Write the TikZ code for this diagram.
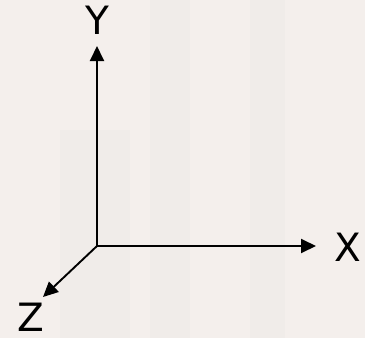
\documentclass[tikz,border=0pt]{standalone}
\usepackage{fontspec}
\setmainfont{DejaVu Sans}
\usetikzlibrary{arrows.meta}
\definecolor{bgcol}{RGB}{244,239,236}
\definecolor{bandcol}{RGB}{240,236,233}
\begin{document}
\begin{tikzpicture}[x=1pt,y=-1pt,
  axis/.style={line width=1.9pt, draw=black, -{Triangle[length=15pt,width=14pt]}},
  axislabel/.style={font=\fontsize{39}{42}\selectfont, inner sep=0pt, text=black, anchor=base}]
\useasboundingbox (0,0) rectangle (365,338);
\fill[bgcol] (0,0) rectangle (365,338);
\fill[bandcol] (150,0) rectangle (190,338);
\fill[bandcol] (250,0) rectangle (285,338);
\fill[bandcol] (60,130) rectangle (130,338);
\coordinate (O) at (97,246);
\coordinate (ytip) at (97,46);
\coordinate (xtip) at (316,246);
\coordinate (ztip) at (43,297);
\node[axislabel] (Y) at (97,34.5) {Y};
\node[axislabel] (X) at (348,261) {X};
\node[axislabel] (Z) at (31,331) {Z};
\draw[axis] (O) -- (ytip);
\draw[axis] (O) -- (xtip);
\draw[axis] (O) -- (ztip);
\end{tikzpicture}
\end{document}
